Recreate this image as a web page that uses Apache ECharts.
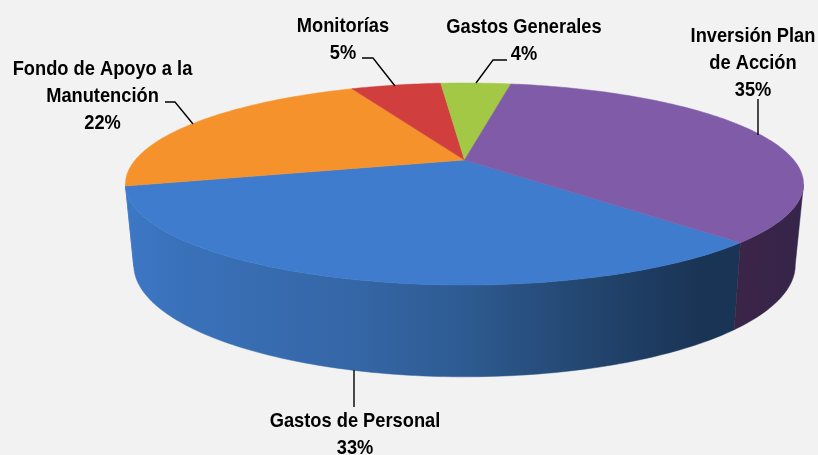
<!DOCTYPE html>
<html>
<head>
<meta charset="utf-8">
<style>html,body{margin:0;padding:0;background:#f2f2f2}#c{width:818px;height:455px}</style>
<script src="https://cdn.jsdelivr.net/npm/echarts@6/dist/echarts.min.js"></script>
</head>
<body>
<div id="c"></div>
<script>
var categories = ['Gastos de Personal', 'Fondo de Apoyo a la\nManutención', 'Monitorías', 'Gastos Generales', 'Inversión Plan\nde Acción'];
var shares = [33.1, 22.3, 5.4, 4.2, 35.0];
var percentLabels = ['33%', '22%', '5%', '4%', '35%'];
var topColors = ['#3f7ccd', '#f6922b', '#d03f3e', '#a2c845', '#7f5ba8'];

var START_DEG = 46;
var VISIBLE_FROM = 14, VISIBLE_TO = 166;
var TOP_RIM = {cx: 464.5, b: 160, a: 57.3, c: -0.2376, d: 329.3};
var BASE_RIM = {cx: 464.5, b: 238, a: 48, c: -0.241, d: 321};
var labelPlace = [
  {x: 355, y: 420, leader: [[354, 370], [354, 407]]},
  {x: 102.5, y: 68, leader: [[165, 102], [175, 102], [193, 124]]},
  {x: 343, y: 25, leader: [[362, 58], [373, 58], [395, 86]]},
  {x: 524, y: 26, leader: [[507, 60], [493, 60], [476, 83]]},
  {x: 753, y: 35, leader: [[758, 99], [758, 135]]}
];

function project(rim, deg) {
  var t = deg * Math.PI / 180, s = Math.sin(t), k = 1 + rim.c * s;
  return [rim.cx + rim.d * Math.cos(t) / k, (rim.b + rim.a * s) / k];
}
function arc(rim, from, to) {
  var pts = [], n = Math.max(2, Math.ceil(Math.abs(to - from)));
  for (var i = 0; i <= n; i++) pts.push(project(rim, from + (to - from) * i / n));
  return pts;
}
function sideFill(i) {
  if (i === 4) {
    return {type: 'linear', x: 735, y: 0, x2: 803, y2: 0, global: true,
      colorStops: [{offset: 0, color: '#3b2547'}, {offset: 1, color: '#36244a'}]};
  }
  return {type: 'linear', x: 125, y: 0, x2: 700, y2: 0, global: true, colorStops: [
    {offset: 0, color: '#3d78c6'}, {offset: 0.08, color: '#3a72bb'}, {offset: 0.4, color: '#3566a6'},
    {offset: 0.6, color: '#2d5a90'}, {offset: 0.8, color: '#234670'}, {offset: 1, color: '#1a3455'}]};
}
function renderSlice(params) {
  var i = params.dataIndex, total = shares.reduce(function (a, b) { return a + b; }, 0), before = 0;
  for (var j = 0; j < i; j++) before += shares[j];
  var from = START_DEG + before / total * 360, to = from + shares[i] / total * 360;
  var children = [];
  [0, 360].forEach(function (off) {
    var a = Math.max(from, VISIBLE_FROM + off), b = Math.min(to, VISIBLE_TO + off);
    if (b > a) {
      var wall = arc(TOP_RIM, a, b).concat(arc(BASE_RIM, b, a));
      children.push({type: 'polygon', shape: {points: wall},
        style: {fill: sideFill(i), stroke: sideFill(i), lineWidth: 0.5}});
    }
  });
  var face = [[TOP_RIM.cx, TOP_RIM.b]].concat(arc(TOP_RIM, from, to));
  children.push({type: 'polygon', shape: {points: face},
    style: {fill: topColors[i], stroke: topColors[i], lineWidth: 0.5}, z2: 5});
  var place = labelPlace[i];
  children.push({type: 'polyline', shape: {points: place.leader},
    style: {fill: 'none', stroke: '#000', lineWidth: 1.4}, z2: 10});
  children.push({type: 'text', z2: 10, x: place.x, y: place.y - 12.5, scaleX: 0.87, style: {
    x: 0, y: 0, text: categories[i] + '\n' + percentLabels[i],
    fill: '#000', align: 'center', verticalAlign: 'top', lineHeight: 27,
    font: 'bold 21px "Liberation Sans",Arial,sans-serif'
  }});
  return {type: 'group', children: children};
}
var chart = echarts.init(document.getElementById('c'), null, {renderer: 'canvas'});
chart.setOption({
  backgroundColor: '#f2f2f2',
  animation: false,
  series: [{
    type: 'custom', coordinateSystem: 'none', renderItem: renderSlice, silent: true,
    data: shares.map(function (v, i) { return {name: categories[i], value: v}; })
  }]
});
</script>
</body>
</html>
